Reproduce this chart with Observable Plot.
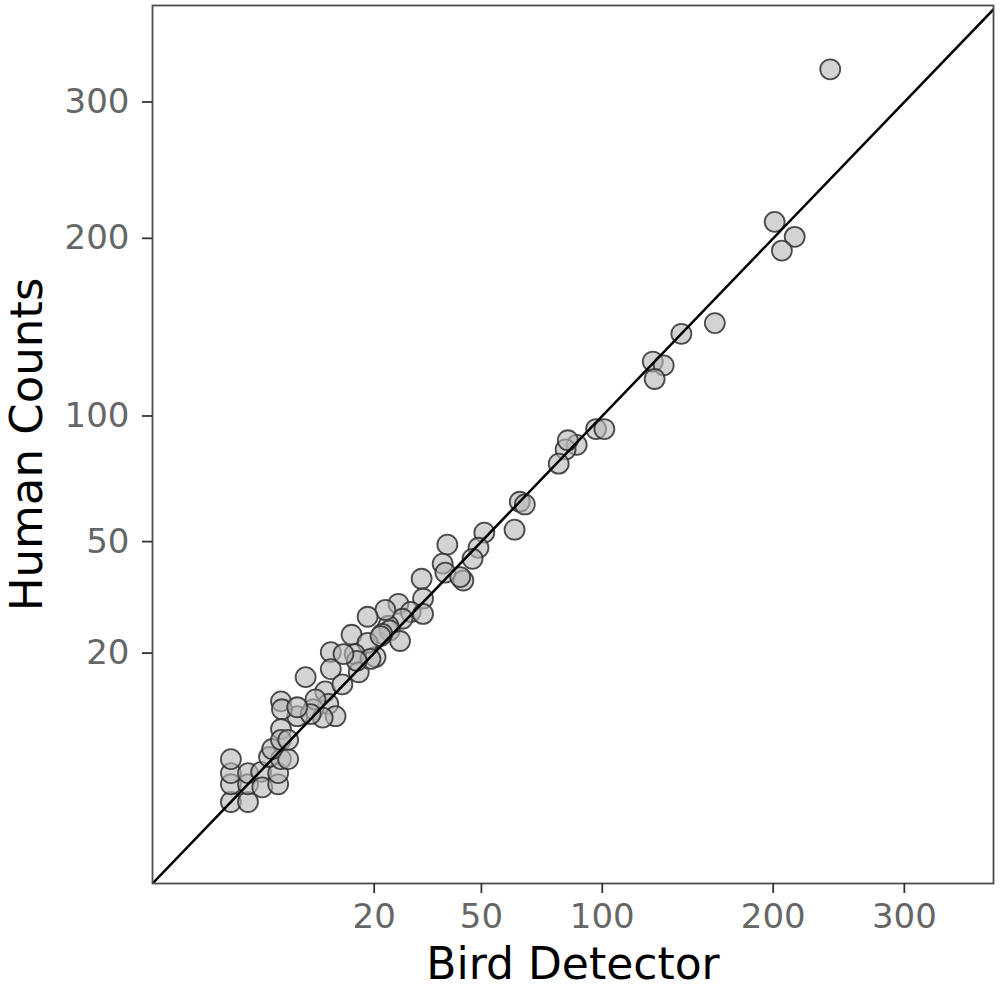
<!DOCTYPE html>
<html><head><meta charset="utf-8">
<script src="https://cdn.jsdelivr.net/npm/d3@7"></script>
<script src="https://cdn.jsdelivr.net/npm/@observablehq/plot@0.6"></script>
<style>body{margin:0;background:#fff;} svg{display:block}</style>
</head><body><div id="chart"></div>
<script>
const birdDetector = [241,201,215,206,162,142,126,132,127,97,101,88,83,84,80,64,66,62,51,49,47,39,37.6,38.4,44,43,31.6,32,25.6,28.7,32,26.6,23.2,22.5,23.5,26,18.6,21.8,20.3,15.4,18.6,16,16.8,19.2,11.7,11.7,7.9,10.8,13.7,11.3,12.5,9,6.8,4.9,5,4.9,10.4,9.3,8.6,1,2,1,1,1,2,2,3,3.1,4.6,4.6,3.7,4.9,5.7,4,4.9,5.7,21.4,16.4,6.8,13.9];
const humanCounts = [327,211,201,192,148,142,127,125,118,94,94,87,85,89,79,64,63,54,53,48,44.5,49,43,40.3,38,39,38.5,33,31.6,29.5,29,27.8,26.1,30,25,22.6,28.3,24.2,19.2,24,22.2,19.8,16.2,18.8,20.2,16.8,15.3,12.8,14,10.8,9,10,9,11.2,10,7.3,8.8,11.5,9.3,1,1,2,2.8,4,2,2.8,2.9,1.8,2,2.8,4.2,4,4,5,6,6,23.7,18.4,10.3,19.8];
const xTicks = [20, 50, 100, 200, 300];
const yTicks = [20, 50, 100, 200, 300];
const xDomain = [-0.81, 379.5];
const yDomain = [-0.81, 383];
const xTitle = "Bird Detector";
const yTitle = "Human Counts";

const data = birdDetector.map((x, i) => ({x, y: humanCounts[i]}));
const diag = [Math.min(xDomain[0], yDomain[0]), Math.max(xDomain[1], yDomain[1])];

const chart = Plot.plot({
  width: 1000, height: 989,
  marginLeft: 152, marginRight: 7, marginTop: 5, marginBottom: 106,
  style: {fontFamily: "DejaVu Sans", background: "#fff"},
  x: {type: "sqrt", domain: xDomain},
  y: {type: "sqrt", domain: yDomain},
  marks: [
    Plot.dot(data, {x: "x", y: "y", r: 10, fill: "#b8b8b8", fillOpacity: 0.62, stroke: "#2e2e2e", strokeOpacity: 0.85, strokeWidth: 1.8}),
    Plot.line(diag, {x: d => d, y: d => d, stroke: "#000", strokeWidth: 2.5, clip: true}),
    Plot.frame({stroke: "#4d4d4d", strokeWidth: 1.8}),
    Plot.axisX(xTicks, {tickSize: 10, tickPadding: 10, fontSize: 34, fill: "#666", stroke: "#333", strokeWidth: 1.8, label: null}),
    Plot.axisY(yTicks, {tickSize: 10, tickPadding: 13, fontSize: 34, fill: "#666", stroke: "#333", strokeWidth: 1.8, label: null}),
    Plot.text([xTitle], {frameAnchor: "bottom", lineAnchor: "top", textAnchor: "middle", dy: 64, fontSize: 44, fill: "#000"}),
    Plot.text([yTitle], {frameAnchor: "left", rotate: -90, lineAnchor: "top", textAnchor: "middle", dx: -142, fontSize: 45, fill: "#000"})
  ]
});
document.getElementById("chart").appendChild(chart);
</script>
</body></html>
